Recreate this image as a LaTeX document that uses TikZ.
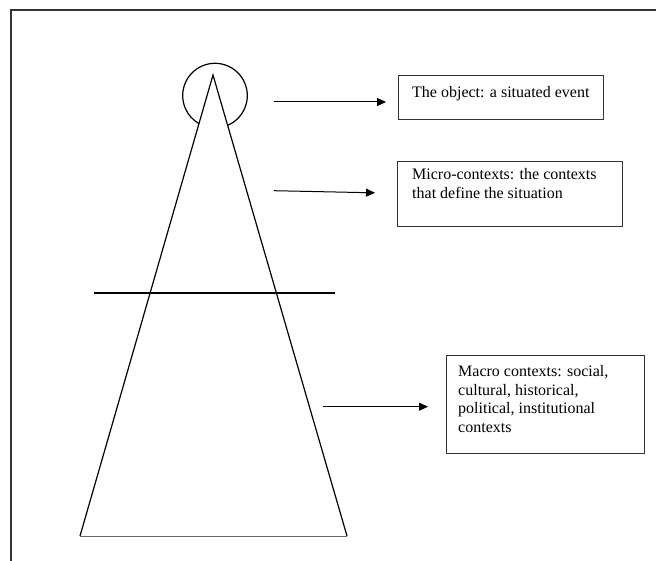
\documentclass[tikz,border=0pt]{standalone}
\usepackage{fontspec}
\setmainfont{Liberation Serif}
\usetikzlibrary{arrows.meta,calc}

\tikzset{
  frameline/.style={line width=1.6pt, draw=black!80},
  edge/.style={line width=1.2pt, draw=black},
  baseline/.style={line width=0.9pt, draw=black!60},
  cutline/.style={line width=1.1pt, draw=black},
  box/.style={draw=black!80, line width=1.1pt, inner sep=0pt, anchor=north west},
  label/.style={anchor=north west, inner sep=0pt, align=left,
    font=\fontsize{16}{18.6}\selectfont},
  pointer/.style={-{Triangle[length=9pt,width=8pt]}, line width=1pt}
}

\begin{document}
\begin{tikzpicture}[x=1pt,y=-1pt]
  \useasboundingbox (0,0) rectangle (656,561);

  % page frame (top and left rules)
  \draw[frameline] (11,561) -- (11,10) -- (656,10);

  % the cone
  \coordinate (apex) at (213,75);
  \coordinate (bl) at (80,536);
  \coordinate (br) at (347,536);
  \draw[edge] (bl) -- (apex) -- (br);
  \draw[baseline] (bl) -- (br);

  % the object: circle around the apex, outside the cone only
  \coordinate (oc) at (215,95.6);
  \draw[edge] (oc) ++(67:32.3) arc[start angle=67, end angle=-240.3, radius=32.3];

  % separation between micro and macro contexts
  \coordinate (cl) at (94,293);
  \coordinate (cr) at (335,293);
  \draw[cutline] (cl) -- (cr);

  % boxes
  \node[box, minimum width=205pt, minimum height=44pt] (b1) at (398,75) {};
  \node[box, minimum width=225pt, minimum height=65pt] (b2) at (397,161) {};
  \node[box, minimum width=198pt, minimum height=98pt] (b3) at (446,355) {};

  % box texts
  \node[label] (t1) at ($(b1.north west)+(14,11.1)$) {The object: a situated event};
  \node[label] (t2) at ($(b2.north west)+(15,7.4)$)
    {Micro-contexts: the contexts\\that define the situation};
  \node[label] (t3) at ($(b3.north west)+(12,10.1)$)
    {Macro contexts: social,\\cultural, historical,\\political, institutional\\contexts};

  % pointers
  \coordinate (s1) at (274,102);
  \coordinate (s2) at (274,190.7);
  \coordinate (y2) at (0,193.3);
  \coordinate (s3) at (323,406.7);
  \draw[pointer, shorten >=12pt] (s1) -- (s1 -| b1.west);
  \draw[pointer, shorten >=22pt] (s2) -- (b2.west |- y2);
  \draw[pointer, shorten >=18pt] (s3) -- (s3 -| b3.west);
\end{tikzpicture}
\end{document}
